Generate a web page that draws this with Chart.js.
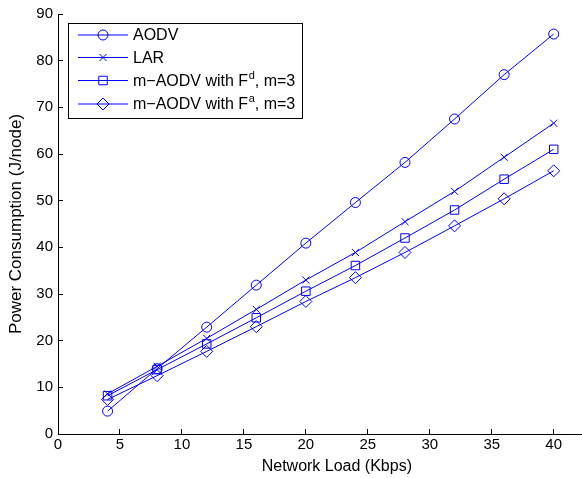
<!DOCTYPE html>
<html>
<head>
<meta charset="utf-8">
<script src="https://cdn.jsdelivr.net/npm/chart.js@4.4.1/dist/chart.umd.min.js"></script>
<style>
  html, body { margin: 0; padding: 0; background: #fff; overflow: hidden; }
  #wrap { width: 631px; height: 478px; }
</style>
</head>
<body>
<div id="wrap"><canvas id="chart1"></canvas></div>
<script>
    // valores
    const loads = [4, 8, 12, 16, 20, 24, 28, 32, 36, 40];
    const aodv = [4.9, 14.0, 22.9, 31.9, 40.9, 49.6, 58.2, 67.5, 77.0, 85.7];
    const lar = [8.6, 14.5, 20.5, 26.7, 33.0, 38.9, 45.5, 52.0, 59.3, 66.6];
    const mAodvFd = [8.2, 13.8, 19.3, 24.9, 30.6, 36.1, 42.0, 48.0, 54.6, 61.0];
    const mAodvFa = [7.4, 12.5, 17.7, 23.0, 28.4, 33.5, 38.9, 44.6, 50.4, 56.4];
    const seriesNames = ['AODV', 'LAR', 'm\u2212AODV with F', 'm\u2212AODV with F'];
    const seriesSup = ['', '', 'd', 'a'];
    const seriesSuffix = ['', '', ', m=3', ', m=3'];

    const blue = '#0000ff';
    const fontFamily = '"Liberation Sans", Arial, Helvetica, sans-serif';

    function toPoints(ys) {
        return loads.map((x, i) => ({ x: x, y: ys[i] }));
    }

    function serie(label, ys, style, radius) {
        return {
            label: label,
            data: toPoints(ys),
            borderColor: blue,
            borderWidth: 1,
            pointStyle: style,
            pointRadius: radius,
            pointHoverRadius: radius,
            pointBorderColor: blue,
            pointBorderWidth: 1,
            pointBackgroundColor: 'rgba(0,0,0,0)',
            fill: false,
            tension: 0
        };
    }

    const datasets = [
        serie(seriesNames[0], aodv, 'circle', 5),
        serie(seriesNames[1], lar, 'crossRot', 5),
        serie(seriesNames[2], mAodvFd, 'rect', 6),
        serie(seriesNames[3], mAodvFa, 'rectRot', 6)
    ];

    // legenda estilo MATLAB com sobrescrito
    const matlabLegend = {
        id: 'matlabLegend',
        afterDraw(chart) {
            const ctx = chart.ctx;
            const box = { x: 68.5, y: 23.5, w: 234, h: 95 };
            ctx.save();
            ctx.fillStyle = '#fff';
            ctx.fillRect(box.x, box.y, box.w, box.h);
            ctx.strokeStyle = '#000';
            ctx.lineWidth = 1;
            ctx.strokeRect(box.x, box.y, box.w, box.h);
            const rows = [35, 57.5, 80.5, 104];
            datasets.forEach((ds, i) => {
                const y = rows[i];
                ctx.strokeStyle = blue;
                ctx.lineWidth = 1;
                ctx.beginPath();
                ctx.moveTo(78, y);
                ctx.lineTo(128, y);
                ctx.stroke();
                ctx.fillStyle = 'rgba(0,0,0,0)';
                Chart.helpers.drawPoint(ctx, {
                    pointStyle: ds.pointStyle,
                    radius: ds.pointRadius,
                    borderWidth: 1
                }, 103, y);
                ctx.fillStyle = '#000';
                ctx.textBaseline = 'middle';
                ctx.font = '16px ' + fontFamily;
                let tx = 133;
                ctx.fillText(seriesNames[i], tx, y + 1);
                tx += ctx.measureText(seriesNames[i]).width;
                if (seriesSup[i]) {
                    ctx.font = '11px ' + fontFamily;
                    ctx.fillText(seriesSup[i], tx + 0.5, y - 5);
                    tx += ctx.measureText(seriesSup[i]).width + 0.5;
                    ctx.font = '16px ' + fontFamily;
                    ctx.fillText(seriesSuffix[i], tx, y + 1);
                }
            });
            ctx.restore();
        }
    };

    const ctx1 = document.getElementById('chart1').getContext('2d');
    const chart1 = new Chart(ctx1, {
        type: 'line',
        data: { datasets: datasets },
        options: {
            responsive: true,
            maintainAspectRatio: false,
            animation: false,
            layout: { padding: { top: 0, right: 0, left: 4, bottom: 0 } },
            plugins: {
                legend: { display: false },
                tooltip: { enabled: false }
            },
            scales: {
                x: {
                    type: 'linear',
                    min: 0,
                    max: 45,
                    afterFit(scale) { scale.height = 44; },
                    ticks: {
                        stepSize: 5,
                        color: '#000',
                        padding: 7,
                        maxRotation: 0,
                        font: { family: fontFamily, size: 15 }
                    },
                    grid: {
                        display: true,
                        drawOnChartArea: false,
                        drawTicks: true,
                        tickLength: -5,
                        color: '#000'
                    },
                    border: { display: true, color: '#000', width: 1 },
                    title: {
                        display: true,
                        text: 'Network Load (Kbps)',
                        color: '#000',
                        padding: { top: 0, bottom: 1.5 },
                        font: { family: fontFamily, size: 16 }
                    }
                },
                y: {
                    min: 0,
                    max: 90,
                    afterFit(scale) {
                        scale.width = 54;
                        scale.paddingTop = 14;
                    },
                    ticks: {
                        stepSize: 10,
                        color: '#000',
                        padding: 10,
                        font: { family: fontFamily, size: 15 }
                    },
                    grid: {
                        display: true,
                        drawOnChartArea: false,
                        drawTicks: true,
                        tickLength: -5,
                        color: '#000'
                    },
                    border: { display: true, color: '#000', width: 1 },
                    title: {
                        display: true,
                        text: 'Power Consumption (J/node)',
                        color: '#000',
                        padding: { top: 2, bottom: 0 },
                        font: { family: fontFamily, size: 17 }
                    }
                }
            }
        },
        plugins: [matlabLegend]
    });
</script>
</body>
</html>
